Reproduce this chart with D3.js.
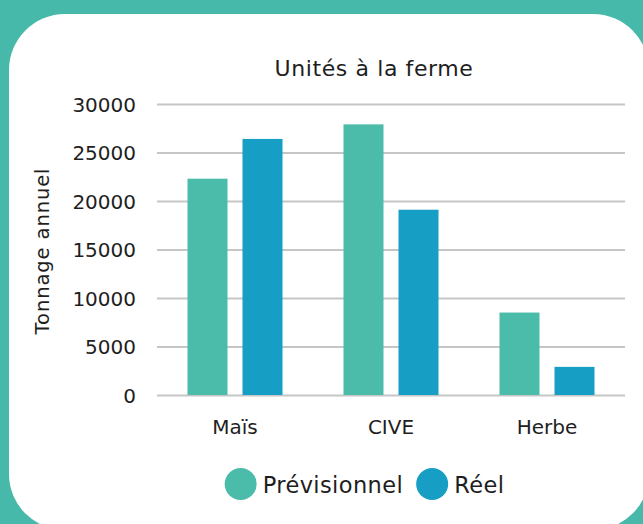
<!DOCTYPE html>
<html>
<head>
<meta charset="utf-8">
<script src="https://cdn.jsdelivr.net/npm/d3@7"></script>
<style>
  html, body { margin: 0; padding: 0; background: #46b9ab; }
  svg { display: block; }
  text { font-family: "DejaVu Sans", sans-serif; fill: #1e1e1e; }
</style>
</head>
<body>
<svg id="chart" width="643" height="524"></svg>
<script>
const categories = ["Maïs", "CIVE", "Herbe"];
const seriesNames = ["Prévisionnel", "Réel"];
const previsionnel = [22300, 27900, 8500];
const reel = [26400, 19100, 2900];
const yTicks = [0, 5000, 10000, 15000, 20000, 25000, 30000];
const title = "Unités à la ferme";
const yTitle = "Tonnage annuel";
const colors = ["#4bbbaa", "#169ec4"];

const svg = d3.select("#chart");
svg.append("rect").attr("width", 643).attr("height", 524).attr("fill", "#46b9ab");
svg.append("rect").attr("x", 9).attr("y", 14).attr("width", 640).attr("height", 516)
  .attr("rx", 56).attr("ry", 56).attr("fill", "#ffffff");

const plot = { left: 157, right: 625, top: 104, bottom: 395 };

const x0 = d3.scaleBand().domain(categories).range([plot.left, plot.right]).padding(0);
const inner = 30.5;
const x1 = d3.scaleBand().domain(seriesNames)
  .range([inner, x0.bandwidth() - inner]).paddingInner(15 / 55).paddingOuter(0);
const y = d3.scaleLinear().domain([0, 30000]).range([plot.bottom, plot.top]);

// Y axis with gridlines
const yAxis = svg.append("g").attr("transform", `translate(${plot.left},0)`)
  .call(d3.axisLeft(y).tickValues(yTicks).tickFormat(d3.format("d"))
    .tickSizeInner(-(plot.right - plot.left)).tickSizeOuter(0).tickPadding(21));
yAxis.select(".domain").remove();
yAxis.selectAll(".tick line").attr("stroke", "#c6c6c6").attr("stroke-width", 1.8);
yAxis.selectAll(".tick text").attr("font-size", 20).attr("dy", "0.36em")
  .style("font-family", '"DejaVu Sans", sans-serif').attr("fill", "#1e1e1e");

// X axis
const xAxis = svg.append("g").attr("transform", `translate(0,${plot.bottom})`)
  .call(d3.axisBottom(x0).tickSize(0).tickPadding(25));
xAxis.select(".domain").remove();
xAxis.selectAll(".tick text").attr("font-size", 20).attr("dy", "0.71em")
  .style("font-family", '"DejaVu Sans", sans-serif').attr("fill", "#1e1e1e");

// Bars
const rows = categories.map((c, i) => ({ cat: c, vals: [previsionnel[i], reel[i]] }));
const groups = svg.append("g").selectAll("g").data(rows).join("g")
  .attr("transform", d => `translate(${x0(d.cat)},0)`);
groups.selectAll("rect")
  .data(d => d.vals.map((v, j) => ({ key: seriesNames[j], v, j })))
  .join("rect")
  .attr("x", d => x1(d.key))
  .attr("width", x1.bandwidth())
  .attr("y", d => y(d.v))
  .attr("height", d => y(0) - y(d.v))
  .attr("fill", d => colors[d.j]);

// Title
svg.append("text").attr("x", 374).attr("y", 76).attr("text-anchor", "middle")
  .attr("font-size", 22).attr("letter-spacing", 0.6).text(title);

// Y title
svg.append("text").attr("transform", "translate(49,251) rotate(-90)")
  .attr("text-anchor", "middle").attr("font-size", 19.5).attr("letter-spacing", 0.9)
  .text(yTitle);

// Legend
const legend = svg.append("g");
let cx = 0;
const r = 16;
const items = [];
seriesNames.forEach((name, i) => {
  const g = legend.append("g");
  g.append("circle").attr("cx", cx + r).attr("cy", 0).attr("r", r).attr("fill", colors[i]);
  const t = g.append("text").attr("x", cx + 2 * r + 6).attr("y", 8.5)
    .attr("font-size", 22.5).attr("letter-spacing", 0.4).text(name);
  const w = t.node().getComputedTextLength();
  cx += 2 * r + 6 + w + 13;
});
const totalW = cx - 13;
legend.attr("transform", `translate(${364.5 - totalW / 2},484)`);
</script>
</body>
</html>
